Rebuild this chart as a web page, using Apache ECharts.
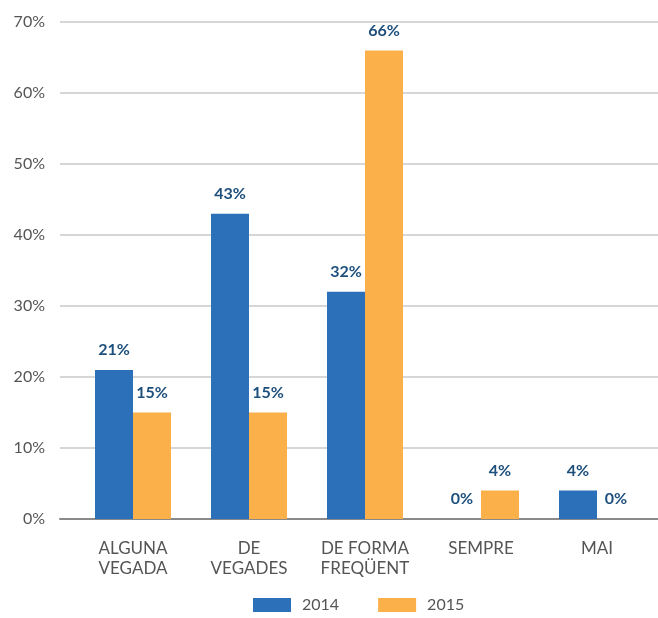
<!DOCTYPE html>
<html lang="ca">
<head>
  <meta charset="UTF-8">
  <title>Freqüència</title>
  <style type="text/css">
    html, body { margin: 0; padding: 0; background: #fff; }
    #chart { width: 658px; height: 618px; }
  </style>
</head>
<body>
  <div id="chart"></div>
  <script src="https://cdn.jsdelivr.net/npm/echarts@6/dist/echarts.min.js"></script>
  <script>
    const categories = ['ALGUNA\nVEGADA', 'DE\nVEGADES', 'DE FORMA\nFREQÜENT', 'SEMPRE', 'MAI']
    const values2014 = [21, 43, 32, 0, 4]
    const values2015 = [15, 15, 66, 4, 0]
    const yTicks = [0, 10, 20, 30, 40, 50, 60, 70]

    const labelStyle = {
      show: true,
      position: 'top',
      distance: 12,
      formatter: '{c}%',
      color: '#1d4f7c',
      fontSize: 16,
      fontWeight: 'bold',
      fontFamily: 'Lato'
    }

    const yMin = yTicks[0]
    const yMax = yTicks[yTicks.length - 1]

    const myChart = echarts.init(document.getElementById('chart'))
    myChart.setOption({
      animation: false,
      textStyle: { fontFamily: 'Lato' },
      // grid 0: gridlines, y labels and baseline; grid 1: the bars
      grid: [
        { left: 60, right: 0, top: 22, bottom: 99 },
        { left: 75, right: 3, top: 22, bottom: 99 }
      ],
      legend: {
        bottom: 0,
        left: 248,
        itemWidth: 38,
        itemHeight: 14,
        itemGap: 39,
        icon: 'rect',
        textStyle: { color: '#555', fontSize: 16, padding: [0, 0, 0, 6] },
        data: ['2014', '2015']
      },
      xAxis: [
        {
          type: 'value',
          gridIndex: 0,
          min: 0,
          max: 1,
          axisLabel: { show: false },
          axisTick: { show: false },
          splitLine: { show: false },
          axisLine: { show: true, onZero: false, lineStyle: { color: '#8a8a8a', width: 2 } }
        },
        {
          type: 'category',
          gridIndex: 1,
          data: categories,
          axisTick: { show: false },
          axisLine: { show: false },
          axisLabel: { color: '#555', fontSize: 17, margin: 20, lineHeight: 20, interval: 0 }
        }
      ],
      yAxis: [
        {
          type: 'value',
          gridIndex: 0,
          min: yMin,
          max: yMax,
          interval: 10,
          axisLine: { show: false },
          axisTick: { show: false },
          axisLabel: { formatter: '{value}%', color: '#555', fontSize: 16, margin: 15 },
          splitLine: { lineStyle: { color: '#c8c8c8', width: 1.5 } }
        },
        {
          type: 'value',
          gridIndex: 1,
          min: yMin,
          max: yMax,
          interval: 10,
          axisLine: { show: false },
          axisTick: { show: false },
          axisLabel: { show: false },
          splitLine: { show: false }
        }
      ],
      series: [
        {
          name: '2014',
          type: 'bar',
          xAxisIndex: 1,
          yAxisIndex: 1,
          data: values2014,
          barWidth: 38,
          barGap: '0%',
          itemStyle: { color: '#2b70b9' },
          label: labelStyle
        },
        {
          name: '2015',
          type: 'bar',
          xAxisIndex: 1,
          yAxisIndex: 1,
          data: values2015,
          barWidth: 38,
          itemStyle: { color: '#fbb04a' },
          label: labelStyle
        }
      ]
    })
  </script>
</body>
</html>
